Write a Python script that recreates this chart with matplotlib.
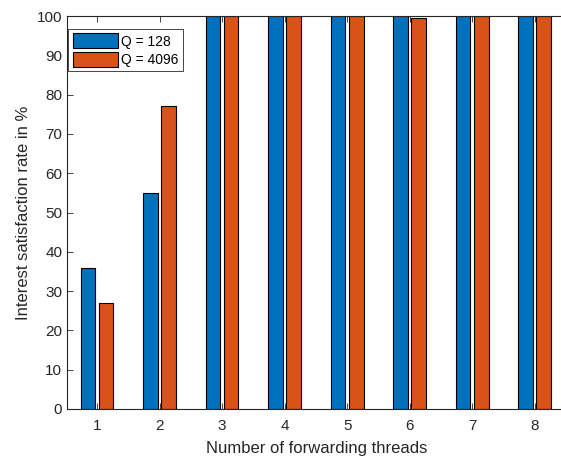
import numpy as np
import matplotlib
matplotlib.use("Agg")
import matplotlib.pyplot as plt

plt.rcParams['font.family'] = ['Liberation Sans', 'DejaVu Sans']

threads = [1, 2, 3, 4, 5, 6, 7, 8]
q128 = [36, 55, 100, 100, 100, 100, 100, 100]
q4096 = [27, 77, 100, 100, 100, 99.5, 100, 100]
labels = ["Q = 128", "Q = 4096"]

fig = plt.figure(figsize=(5.61, 4.57), dpi=100)
# right edge of the axes runs past the figure edge, like the reference
ax = fig.add_axes([67 / 561, 48 / 457, 499 / 561, 393 / 457])

x = np.array(threads)
w = 0.235
ax.bar(x - 0.145, q128, w, color="#0072BD", edgecolor="black", linewidth=0.8, label=labels[0])
ax.bar(x + 0.145, q4096, w, color="#D95319", edgecolor="black", linewidth=0.8, label=labels[1])

ax.set_xlim(0.52, 8.5)
ax.set_ylim(0, 100)
ax.set_xticks(threads)
ax.set_yticks(np.arange(0, 101, 10))
ax.tick_params(direction="in", length=4, width=0.6, colors="#262626", labelsize=11,
               top=True, right=False)
ax.tick_params(axis="x", pad=7)
for s in ax.spines.values():
    s.set_color("#262626")
    s.set_linewidth(0.8)

ax.set_xlabel("Number of forwarding threads", fontsize=12, color="#262626", labelpad=6)
ax.set_ylabel("Interest satisfaction rate in %", fontsize=12, color="#262626")

leg = ax.legend(loc="upper left", bbox_to_anchor=(0.0, 0.97), fontsize=10, fancybox=False,
                framealpha=1, edgecolor="#262626", handlelength=3.3, handleheight=1.3,
                handletextpad=0.2, borderpad=0.3, labelspacing=0.25, borderaxespad=0.1)
leg.get_frame().set_linewidth(0.6)

fig.savefig("out.png", dpi=100)
